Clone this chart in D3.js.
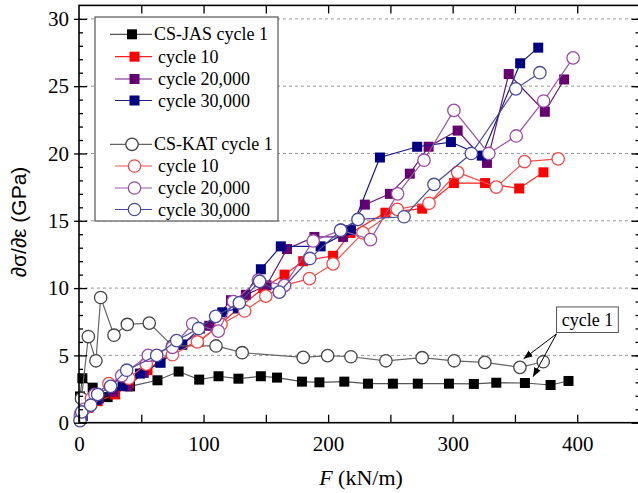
<!DOCTYPE html>
<html>
<head>
<meta charset="utf-8">
<script src="https://cdn.jsdelivr.net/npm/d3@7/dist/d3.min.js"></script>
<style>
  body { margin: 0; background: #fff; }
  svg { display: block; }
</style>
</head>
<body>
<svg id="chart" width="638" height="493"></svg>
<script>
// values: [F (kN/m), dσ/dε (GPa)]
const jasCycle1 = [[0.8,1.95],[2.7,3.3],[11,2.6],[23,1.9],[41,2.7],[63,3.15],[80,3.8],[96.5,3.2],[112,3.45],[128,3.27],[146,3.45],[159,3.35],[179,3.05],[193,3.0],[213,3.05],[232,2.9],[252,2.9],[272,2.9],[297,2.9],[317,2.88],[335,2.97],[358,2.95],[378.6,2.8],[393,3.1]];
const jasCycle10 = [[2,0.5],[7,1.1],[15,1.6],[29,2.1],[40,2.9],[55,3.9],[75,5.3],[96,6.0],[112,7.2],[128,8.5],[148,10.0],[165,11.0],[180,12.0],[204,12.4],[218,14.1],[246,15.6],[275.5,15.9],[301,17.8],[326,17.8],[353.4,17.4],[372.9,18.6]];
const jasCycle20k = [[2,0.6],[8,1.2],[16,1.8],[27.5,2.3],[39,2.7],[52,3.7],[65,4.5],[82,5.8],[104.5,7.2],[122,9.1],[134,9.5],[150.6,10.2],[167,12.9],[189,13.8],[212,13.8],[229.5,16.2],[249.6,17.0],[265.6,18.5],[280.7,20.5],[304,21.7],[327.5,19.3],[345,25.9],[374,23.1],[389.5,25.5]];
const jasCycle30k = [[1,0.3],[3,0.5],[14,1.7],[35,2.75],[49,3.65],[65.5,4.45],[83,5.8],[97,7.0],[115,8.2],[127.5,8.5],[146,11.4],[162,13.1],[194,13.1],[218.3,14.3],[241.6,19.7],[271.5,20.5],[298.6,20.85],[323.4,19.84],[354.2,26.7],[368.7,27.86]];

const katCycle1 = [[2,1.8],[7.5,6.4],[13.6,4.6],[17.4,9.3],[28.1,6.5],[38.8,7.3],[56.4,7.4],[75,5.7],[110,5.7],[131,5.2],[180,4.85],[199.6,4.98],[218.3,4.9],[246.4,4.6],[275.5,4.83],[301.2,4.6],[325.8,4.48],[354,4.11],[372.7,4.53]];
const katCycle10 = [[1.5,0.7],[10,1.8],[24,2.9],[40,3.3],[54,4.35],[75,5.05],[95,6.0],[114,7.3],[133,8.3],[150,9.4],[165,10.2],[185,10.7],[204,11.8],[228,14.1],[255.5,15.85],[281,16.3],[304,18.6],[335,17.5],[357.7,19.4],[384.7,19.6]];
const katCycle20k = [[1,0.5],[4,1.0],[12.8,2.1],[34.3,3.5],[55.6,5.0],[75,5.6],[91.2,7.35],[111.8,6.8],[124,9.0],[144,10.6],[165,10.2],[188,13.5],[210.3,14.3],[234,13.6],[255.8,17.0],[277,19.5],[301,23.2],[329,20.0],[351,21.3],[373,23.9],[396.7,27.1]];
const katCycle30k = [[0.8,0.15],[2.2,0.8],[9.4,1.3],[15,2.1],[25.4,2.7],[38.3,3.9],[62.4,5.0],[78.4,6.1],[96,7.0],[109.7,7.9],[128.7,8.9],[145,10.5],[160.8,9.7],[185.4,12.2],[210,14.3],[224,15.1],[261,15.3],[285,17.7],[315,20.0],[350.7,24.8],[370,26.0]];

const seriesNames = ["CS-JAS cycle 1","cycle 10","cycle 20,000","cycle 30,000","CS-KAT cycle 1","cycle 10","cycle 20,000","cycle 30,000"];
const xTicks = [0,100,200,300,400];
const yTicks = [0,5,10,15,20,25,30];

const series = [
  {name: seriesNames[0], data: jasCycle1, shape: "square", color: "#000000", line: "#555555"},
  {name: seriesNames[1], data: jasCycle10, shape: "square", color: "#ff0000", line: "#ff2020"},
  {name: seriesNames[2], data: jasCycle20k, shape: "square", color: "#660070", line: "#6a1a7a"},
  {name: seriesNames[3], data: jasCycle30k, shape: "square", color: "#000080", line: "#1a1a88"},
  {name: seriesNames[4], data: katCycle1, shape: "circle", color: "#444444", line: "#666666"},
  {name: seriesNames[5], data: katCycle10, shape: "circle", color: "#f04848", line: "#f05050"},
  {name: seriesNames[6], data: katCycle20k, shape: "circle", color: "#9a4aa8", line: "#9a55a8"},
  {name: seriesNames[7], data: katCycle30k, shape: "circle", color: "#4a4a9c", line: "#4a4a9c"}
];

const svg = d3.select("#chart");
const x = d3.scaleLinear().domain([0, 450]).range([79, 639.5]);
const y = d3.scaleLinear().domain([0, 31]).range([422.7, 5.4]);
const serif = "'Liberation Serif', 'Times New Roman', serif";

// dashed grid
svg.append("g").selectAll("line")
  .data(yTicks.filter(d => d > 0))
  .join("line")
  .attr("x1", x(0)).attr("x2", x(450))
  .attr("y1", d => y(d)).attr("y2", d => y(d))
  .attr("stroke", "#9a9a9a").attr("stroke-width", 1)
  .attr("stroke-dasharray", "3,3");

// series
const line = d3.line().x(d => x(d[0])).y(d => y(d[1]));
const plot = svg.append("g");
series.forEach(s => {
  const g = plot.append("g");
  g.append("path").datum(s.data)
    .attr("d", line).attr("fill", "none")
    .attr("stroke", s.line).attr("stroke-width", 1.2);
  if (s.shape === "square") {
    g.selectAll("rect").data(s.data).join("rect")
      .attr("x", d => x(d[0]) - 5).attr("y", d => y(d[1]) - 5)
      .attr("width", 10).attr("height", 10)
      .attr("fill", s.color);
  } else {
    g.selectAll("circle").data(s.data).join("circle")
      .attr("cx", d => x(d[0])).attr("cy", d => y(d[1])).attr("r", 6.2)
      .attr("fill", "#fff").attr("stroke", s.color).attr("stroke-width", 1.3);
  }
});

// axes
function styleAxis(g) {
  g.select(".domain").remove();
  g.selectAll(".tick line").attr("stroke", "#000").attr("stroke-width", 1.3);
  g.selectAll("text").attr("font-family", serif).attr("font-size", 21).attr("fill", "#000");
}
svg.append("g").attr("transform", `translate(0,${y(0)})`)
  .call(d3.axisBottom(x).tickValues(xTicks).tickSizeInner(-8).tickSizeOuter(0).tickPadding(13))
  .call(styleAxis);
svg.append("g").attr("transform", `translate(0,${y(0)})`)
  .call(d3.axisBottom(x).tickValues([50,150,250,350]).tickSizeInner(-8).tickSizeOuter(0).tickFormat(""))
  .call(styleAxis);
svg.append("g").attr("transform", `translate(0,${y(31)})`)
  .call(d3.axisTop(x).tickValues(d3.range(50, 450, 50)).tickSizeInner(-8).tickSizeOuter(0).tickFormat(""))
  .call(styleAxis);
svg.append("g").attr("transform", `translate(${x(0)},0)`)
  .call(d3.axisLeft(y).tickValues(yTicks).tickSizeInner(-8).tickSizeOuter(0).tickPadding(10))
  .call(styleAxis);
svg.append("g").attr("transform", `translate(${x(0)},0)`)
  .call(d3.axisLeft(y).tickValues(yTicks).tickSizeInner(5).tickSizeOuter(0).tickFormat(""))
  .call(styleAxis);
svg.append("g").attr("transform", `translate(${x(0)},0)`)
  .call(d3.axisLeft(y).tickValues(d3.range(1, 31).filter(d => d % 5)).tickSizeInner(-4).tickSizeOuter(0).tickFormat(""))
  .call(styleAxis);
svg.append("g").attr("transform", `translate(${x(450)},0)`)
  .call(d3.axisRight(y).tickValues(d3.range(1, 31)).tickSizeInner(-4).tickSizeOuter(0).tickFormat(""))
  .call(styleAxis);
svg.append("g").attr("transform", `translate(${x(450)},0)`)
  .call(d3.axisRight(y).tickValues(yTicks).tickSizeInner(-8).tickSizeOuter(0).tickFormat(""))
  .call(styleAxis);

// frame
svg.append("rect")
  .attr("x", x(0)).attr("y", y(31))
  .attr("width", x(450) - x(0)).attr("height", y(0) - y(31))
  .attr("fill", "none").attr("stroke", "#000").attr("stroke-width", 1.6);

// axis titles
svg.append("text")
  .attr("transform", `translate(26,${(y(0) + y(31)) / 2 + 8}) rotate(-90)`)
  .attr("text-anchor", "middle")
  .attr("font-family", "'Liberation Sans', Arial, sans-serif")
  .attr("font-size", 21)
  .text("∂σ/∂ε (GPa)");
const xt = svg.append("text")
  .attr("x", 361).attr("y", 485)
  .attr("text-anchor", "middle")
  .attr("font-family", serif).attr("font-size", 22);
xt.append("tspan").attr("font-style", "italic").text("F");
xt.append("tspan").text(" (kN/m)");

// legend
const lg = svg.append("g");
lg.append("rect").attr("x", 95).attr("y", 17).attr("width", 183).attr("height", 204)
  .attr("fill", "#fff").attr("stroke", "#555").attr("stroke-width", 1.2);
const rowY = [34.3, 56.7, 79, 100.5, 144.3, 166, 188, 209.5];
series.forEach((s, i) => {
  const ry = rowY[i];
  const first = i === 0 || i === 4;
  const x1 = first ? 110 : 115, x2 = 152, cx = (x1 + x2) / 2 + 1;
  lg.append("line").attr("x1", x1).attr("x2", x2).attr("y1", ry).attr("y2", ry)
    .attr("stroke", s.line).attr("stroke-width", 1.2);
  if (s.shape === "square") {
    lg.append("rect").attr("x", cx - 5).attr("y", ry - 5).attr("width", 10).attr("height", 10).attr("fill", s.color);
  } else {
    lg.append("circle").attr("cx", cx).attr("cy", ry).attr("r", 6.2)
      .attr("fill", "#fff").attr("stroke", s.color).attr("stroke-width", 1.3);
  }
  lg.append("text").attr("x", first ? 154 : 158).attr("y", ry + 6)
    .attr("font-family", serif).attr("font-size", 18).text(s.name);
});

// "cycle 1" annotation with arrows
const defs = svg.append("defs");
defs.append("marker").attr("id", "arr").attr("viewBox", "0 0 10 10")
  .attr("refX", 10).attr("refY", 5).attr("markerWidth", 9).attr("markerHeight", 9)
  .attr("orient", "auto").attr("markerUnits", "userSpaceOnUse")
  .append("path").attr("d", "M0,1 L10,5 L0,9 Z").attr("fill", "#000");
const ann = svg.append("g");
const start = [x(383.4), y(6.6)];
[[357, 4.75], [364.6, 3.42]].forEach(t => {
  ann.append("line").attr("x1", start[0]).attr("y1", start[1])
    .attr("x2", x(t[0])).attr("y2", y(t[1]))
    .attr("stroke", "#000").attr("stroke-width", 1).attr("marker-end", "url(#arr)");
});
ann.append("rect").attr("x", x(383.4)).attr("y", y(8.6))
  .attr("width", x(433) - x(383.4)).attr("height", y(6.7) - y(8.6))
  .attr("fill", "#fff").attr("stroke", "#555").attr("stroke-width", 1);
ann.append("text").attr("x", (x(383.4) + x(433)) / 2).attr("y", y(7.65) + 6)
  .attr("text-anchor", "middle").attr("font-family", serif).attr("font-size", 18)
  .text("cycle 1");
</script>
</body>
</html>
